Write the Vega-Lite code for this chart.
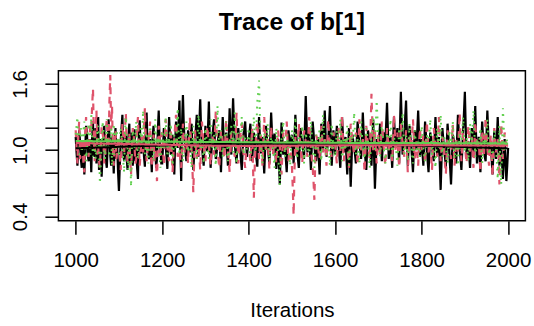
{
"$schema":"https://vega.github.io/schema/vega-lite/v6.json",
"width":467,"height":150,
"autosize":{"type":"none"},
"padding":{"left":58.4,"top":70.7,"right":8.6,"bottom":105.3},
"background":"white",
"config":{"view":{"stroke":"black","strokeWidth":1.5},"font":"Liberation Sans"},
"title":{"text":"Trace of b[1]","fontSize":24.6,"fontWeight":"bold","font":"Liberation Sans","color":"black","baseline":"alphabetic","offset":15,"anchor":"middle"},
"data":{"values":[
{"i":1000,"a":1.12,"b":1.18,"c":1.14},{"i":1004,"a":0.86,"b":0.88,"c":1.30},{"i":1008,"a":1.18,"b":1.26,"c":0.96},{"i":1012,"a":0.92,"b":0.95,"c":1.20},{"i":1016,"a":1.05,"b":1.08,"c":1.04},
{"i":1020,"a":0.78,"b":0.80,"c":1.26},{"i":1024,"a":1.22,"b":1.30,"c":0.90},{"i":1028,"a":0.95,"b":1.00,"c":1.16},{"i":1032,"a":1.10,"b":1.12,"c":1.08},{"i":1036,"a":0.80,"b":1.20,"c":1.32},
{"i":1040,"a":1.25,"b":1.56,"c":0.94},{"i":1044,"a":1.02,"b":0.90,"c":1.12},{"i":1048,"a":0.88,"b":1.36,"c":1.00},{"i":1052,"a":1.30,"b":1.04,"c":1.22},{"i":1056,"a":0.98,"b":0.84,"c":0.70},
{"i":1060,"a":0.76,"b":1.22,"c":1.06},{"i":1064,"a":1.15,"b":1.10,"c":1.18},{"i":1068,"a":1.06,"b":0.94,"c":0.92},{"i":1072,"a":0.84,"b":1.28,"c":1.28},{"i":1076,"a":1.28,"b":1.02,"c":1.02},
{"i":1080,"a":0.95,"b":1.68,"c":1.10},{"i":1084,"a":1.12,"b":1.40,"c":0.86},{"i":1088,"a":0.79,"b":0.86,"c":1.24},{"i":1092,"a":1.20,"b":1.18,"c":1.00},{"i":1096,"a":1.02,"b":0.98,"c":1.14},
{"i":1100,"a":0.63,"b":1.10,"c":0.94},{"i":1104,"a":1.08,"b":0.82,"c":1.20},{"i":1108,"a":1.32,"b":1.24,"c":1.06},{"i":1112,"a":0.90,"b":0.96,"c":0.80},{"i":1116,"a":1.15,"b":1.34,"c":1.30},
{"i":1120,"a":0.82,"b":0.88,"c":1.02},{"i":1124,"a":1.24,"b":1.16,"c":1.12},{"i":1128,"a":1.00,"b":0.78,"c":0.67},{"i":1132,"a":0.86,"b":1.20,"c":1.18},{"i":1136,"a":1.19,"b":1.04,"c":1.00},
{"i":1140,"a":1.05,"b":0.92,"c":1.26},{"i":1144,"a":0.74,"b":1.30,"c":0.92},{"i":1148,"a":1.27,"b":0.86,"c":1.10},{"i":1152,"a":0.97,"b":1.12,"c":1.04},{"i":1156,"a":1.12,"b":0.98,"c":1.36},
{"i":1160,"a":0.85,"b":1.38,"c":0.96},{"i":1164,"a":1.34,"b":0.90,"c":1.16},{"i":1168,"a":0.98,"b":1.08,"c":0.88},{"i":1172,"a":1.10,"b":1.26,"c":1.22},{"i":1176,"a":0.80,"b":0.84,"c":1.06},
{"i":1180,"a":1.22,"b":1.14,"c":0.90},{"i":1184,"a":1.04,"b":1.00,"c":1.28},{"i":1188,"a":0.92,"b":0.72,"c":1.00},{"i":1192,"a":1.36,"b":1.22,"c":1.12},{"i":1196,"a":1.00,"b":0.94,"c":0.84},
{"i":1200,"a":0.88,"b":1.16,"c":1.18},{"i":1204,"a":1.20,"b":0.86,"c":1.02},{"i":1208,"a":1.06,"b":1.28,"c":1.30},{"i":1212,"a":0.83,"b":1.02,"c":0.94},{"i":1216,"a":1.30,"b":0.90,"c":1.10},
{"i":1220,"a":0.96,"b":1.20,"c":1.24},{"i":1224,"a":1.14,"b":0.80,"c":0.86},{"i":1228,"a":0.78,"b":1.10,"c":1.14},{"i":1232,"a":1.26,"b":1.32,"c":1.00},{"i":1236,"a":1.02,"b":0.94,"c":1.38},
{"i":1240,"a":1.45,"b":1.06,"c":0.96},{"i":1244,"a":0.72,"b":0.84,"c":1.20},{"i":1248,"a":1.50,"b":1.24,"c":0.90},{"i":1252,"a":1.08,"b":0.98,"c":1.08},{"i":1256,"a":0.90,"b":1.12,"c":1.26},
{"i":1260,"a":1.18,"b":0.88,"c":0.98},{"i":1264,"a":0.98,"b":1.30,"c":1.16},{"i":1268,"a":1.24,"b":1.00,"c":0.84},{"i":1272,"a":0.82,"b":0.62,"c":1.22},{"i":1276,"a":1.10,"b":1.18,"c":1.04},
{"i":1280,"a":1.32,"b":0.92,"c":0.92},{"i":1284,"a":0.94,"b":1.08,"c":1.32},{"i":1288,"a":1.46,"b":0.82,"c":1.00},{"i":1292,"a":1.04,"b":1.26,"c":1.12},{"i":1296,"a":0.86,"b":1.04,"c":0.88},
{"i":1300,"a":1.22,"b":0.90,"c":1.20},{"i":1304,"a":0.99,"b":1.22,"c":1.04},{"i":1308,"a":1.44,"b":1.06,"c":0.92},{"i":1312,"a":0.84,"b":0.86,"c":1.28},{"i":1316,"a":1.12,"b":1.14,"c":1.00},
{"i":1320,"a":1.28,"b":0.96,"c":1.14},{"i":1324,"a":0.92,"b":1.36,"c":0.86},{"i":1328,"a":1.06,"b":1.02,"c":1.40},{"i":1332,"a":1.18,"b":0.84,"c":1.02},{"i":1336,"a":0.80,"b":1.18,"c":1.18},
{"i":1340,"a":1.30,"b":1.08,"c":0.94},{"i":1344,"a":1.00,"b":0.92,"c":1.10},{"i":1348,"a":1.16,"b":1.28,"c":1.26},{"i":1352,"a":0.86,"b":1.00,"c":0.90},{"i":1356,"a":1.38,"b":0.80,"c":1.06},
{"i":1360,"a":0.96,"b":1.16,"c":1.22},{"i":1364,"a":1.47,"b":1.04,"c":0.98},{"i":1368,"a":1.05,"b":0.94,"c":1.34},{"i":1372,"a":0.88,"b":1.34,"c":0.88},{"i":1376,"a":1.20,"b":0.88,"c":1.16},
{"i":1380,"a":1.02,"b":1.10,"c":1.04},{"i":1384,"a":0.82,"b":1.24,"c":1.30},{"i":1388,"a":1.14,"b":0.98,"c":0.96},{"i":1392,"a":1.26,"b":0.84,"c":1.12},{"i":1396,"a":0.94,"b":1.12,"c":1.00},
{"i":1400,"a":1.08,"b":1.02,"c":1.20},{"i":1404,"a":1.24,"b":0.90,"c":0.92},{"i":1408,"a":0.90,"b":1.20,"c":1.10},{"i":1412,"a":1.16,"b":0.57,"c":1.30},{"i":1416,"a":1.00,"b":1.06,"c":0.98},
{"i":1420,"a":0.85,"b":1.26,"c":1.44},{"i":1424,"a":1.30,"b":0.92,"c":1.63},{"i":1428,"a":0.97,"b":1.14,"c":1.06},{"i":1432,"a":1.12,"b":0.86,"c":0.88},{"i":1436,"a":0.79,"b":1.30,"c":1.16},
{"i":1440,"a":1.22,"b":1.00,"c":1.00},{"i":1444,"a":1.04,"b":1.10,"c":1.24},{"i":1448,"a":0.88,"b":0.82,"c":0.90},{"i":1452,"a":1.34,"b":1.22,"c":1.12},{"i":1456,"a":1.00,"b":0.96,"c":1.04},
{"i":1460,"a":1.15,"b":1.08,"c":0.84},{"i":1464,"a":0.83,"b":0.88,"c":1.20},{"i":1468,"a":1.10,"b":1.18,"c":0.98},{"i":1472,"a":0.69,"b":1.04,"c":0.68},{"i":1476,"a":1.25,"b":0.78,"c":1.10},
{"i":1480,"a":0.96,"b":1.16,"c":1.26},{"i":1484,"a":1.08,"b":0.98,"c":0.94},{"i":1488,"a":0.80,"b":1.26,"c":1.14},{"i":1492,"a":1.18,"b":0.90,"c":1.02},{"i":1496,"a":1.02,"b":1.06,"c":0.86},
{"i":1500,"a":1.14,"b":0.86,"c":1.18},{"i":1504,"a":0.88,"b":0.41,"c":1.04},{"i":1508,"a":1.32,"b":1.12,"c":1.30},{"i":1512,"a":1.00,"b":0.96,"c":0.92},{"i":1516,"a":0.84,"b":1.24,"c":1.12},
{"i":1520,"a":1.20,"b":1.02,"c":1.00},{"i":1524,"a":1.06,"b":0.88,"c":1.22},{"i":1528,"a":0.92,"b":1.18,"c":0.88},{"i":1532,"a":1.49,"b":1.08,"c":1.16},{"i":1536,"a":0.98,"b":0.94,"c":1.06},
{"i":1540,"a":1.16,"b":1.30,"c":0.94},{"i":1544,"a":0.82,"b":1.00,"c":1.26},{"i":1548,"a":1.26,"b":0.84,"c":1.02},{"i":1552,"a":1.04,"b":0.55,"c":0.84},{"i":1556,"a":0.90,"b":1.14,"c":1.14},
{"i":1560,"a":1.12,"b":1.04,"c":1.00},{"i":1564,"a":0.78,"b":0.92,"c":1.20},{"i":1568,"a":1.24,"b":1.22,"c":0.90},{"i":1572,"a":1.00,"b":0.98,"c":1.32},{"i":1576,"a":1.36,"b":1.10,"c":1.04},
{"i":1580,"a":0.94,"b":0.86,"c":0.96},{"i":1584,"a":1.08,"b":1.28,"c":1.10},{"i":1588,"a":1.40,"b":1.02,"c":0.86},{"i":1592,"a":0.86,"b":0.94,"c":1.24},{"i":1596,"a":1.18,"b":1.16,"c":1.02},
{"i":1600,"a":0.96,"b":1.06,"c":0.94},{"i":1604,"a":1.22,"b":0.88,"c":1.18},{"i":1608,"a":1.04,"b":1.20,"c":1.06},{"i":1612,"a":0.84,"b":0.98,"c":1.28},{"i":1616,"a":1.30,"b":1.32,"c":0.90},
{"i":1620,"a":0.98,"b":0.90,"c":1.12},{"i":1624,"a":1.12,"b":1.12,"c":1.00},{"i":1628,"a":0.78,"b":1.02,"c":1.22},{"i":1632,"a":1.20,"b":0.84,"c":0.86},{"i":1636,"a":0.67,"b":1.24,"c":1.16},
{"i":1640,"a":1.14,"b":1.08,"c":1.04},{"i":1644,"a":1.02,"b":0.96,"c":1.34},{"i":1648,"a":0.88,"b":1.16,"c":0.96},{"i":1652,"a":1.26,"b":0.86,"c":1.10},{"i":1656,"a":1.06,"b":1.28,"c":0.88},
{"i":1660,"a":0.92,"b":1.00,"c":1.26},{"i":1664,"a":1.34,"b":1.10,"c":1.02},{"i":1668,"a":1.00,"b":0.80,"c":0.92},{"i":1672,"a":0.82,"b":1.22,"c":1.20},{"i":1676,"a":1.18,"b":1.04,"c":1.08},
{"i":1680,"a":1.08,"b":0.92,"c":0.84},{"i":1684,"a":0.86,"b":1.51,"c":1.14},{"i":1688,"a":1.28,"b":1.00,"c":1.30},{"i":1692,"a":0.65,"b":1.18,"c":1.00},{"i":1696,"a":1.10,"b":0.88,"c":1.45},
{"i":1700,"a":1.00,"b":1.14,"c":1.10},{"i":1704,"a":1.24,"b":0.96,"c":0.94},{"i":1708,"a":0.90,"b":1.26,"c":1.22},{"i":1712,"a":1.16,"b":1.04,"c":1.04},{"i":1716,"a":1.06,"b":0.86,"c":0.88},
{"i":1720,"a":1.43,"b":1.20,"c":1.16},{"i":1724,"a":0.92,"b":1.00,"c":1.00},{"i":1728,"a":1.12,"b":1.10,"c":1.28},{"i":1732,"a":0.84,"b":0.90,"c":0.92},{"i":1736,"a":1.30,"b":1.32,"c":1.12},
{"i":1740,"a":1.02,"b":0.98,"c":1.06},{"i":1744,"a":1.20,"b":1.16,"c":0.86},{"i":1748,"a":0.88,"b":0.84,"c":1.20},{"i":1752,"a":1.53,"b":1.24,"c":1.02},{"i":1756,"a":0.96,"b":1.06,"c":1.34},
{"i":1760,"a":1.14,"b":0.94,"c":0.96},{"i":1764,"a":1.45,"b":1.18,"c":1.14},{"i":1768,"a":0.86,"b":0.80,"c":0.90},{"i":1772,"a":1.22,"b":1.12,"c":1.24},{"i":1776,"a":1.04,"b":1.02,"c":1.04},
{"i":1780,"a":0.80,"b":1.28,"c":0.88},{"i":1784,"a":1.18,"b":0.92,"c":1.18},{"i":1788,"a":1.00,"b":1.08,"c":1.00},{"i":1792,"a":1.36,"b":0.86,"c":1.10},{"i":1796,"a":0.94,"b":1.20,"c":0.94},
{"i":1800,"a":1.10,"b":1.00,"c":1.22},{"i":1804,"a":0.86,"b":1.14,"c":1.02},{"i":1808,"a":1.26,"b":0.88,"c":0.90},{"i":1812,"a":1.00,"b":1.26,"c":1.14},{"i":1816,"a":0.80,"b":0.98,"c":1.06},
{"i":1820,"a":1.16,"b":1.08,"c":1.28},{"i":1824,"a":1.04,"b":0.82,"c":0.96},{"i":1828,"a":0.90,"b":1.20,"c":1.10},{"i":1832,"a":1.30,"b":1.04,"c":0.84},{"i":1836,"a":0.96,"b":0.94,"c":1.20},
{"i":1840,"a":1.12,"b":1.30,"c":1.00},{"i":1844,"a":0.64,"b":0.90,"c":1.32},{"i":1848,"a":1.20,"b":1.12,"c":0.94},{"i":1852,"a":1.02,"b":1.00,"c":1.12},{"i":1856,"a":0.85,"b":0.78,"c":1.04},
{"i":1860,"a":1.24,"b":1.18,"c":0.88},{"i":1864,"a":0.98,"b":1.06,"c":1.18},{"i":1868,"a":0.69,"b":0.92,"c":1.00},{"i":1872,"a":1.14,"b":1.24,"c":1.26},{"i":1876,"a":1.06,"b":0.86,"c":0.92},
{"i":1880,"a":0.88,"b":1.10,"c":1.08},{"i":1884,"a":1.32,"b":0.98,"c":0.86},{"i":1888,"a":1.00,"b":1.34,"c":1.16},{"i":1892,"a":0.82,"b":0.90,"c":1.02},{"i":1896,"a":1.18,"b":1.16,"c":1.30},
{"i":1900,"a":1.53,"b":1.04,"c":0.98},{"i":1904,"a":0.94,"b":0.88,"c":1.12},{"i":1908,"a":1.08,"b":1.22,"c":0.90},{"i":1912,"a":0.84,"b":0.96,"c":1.24},{"i":1916,"a":1.20,"b":1.12,"c":1.04},
{"i":1920,"a":0.98,"b":0.84,"c":1.36},{"i":1924,"a":1.40,"b":1.26,"c":0.94},{"i":1928,"a":0.88,"b":1.00,"c":1.10},{"i":1932,"a":1.12,"b":1.08,"c":1.00},{"i":1936,"a":0.80,"b":0.80,"c":1.20},
{"i":1940,"a":1.26,"b":1.18,"c":0.88},{"i":1944,"a":1.00,"b":0.94,"c":1.14},{"i":1948,"a":0.90,"b":1.30,"c":1.02},{"i":1952,"a":1.36,"b":1.02,"c":1.28},{"i":1956,"a":0.96,"b":0.86,"c":0.96},
{"i":1960,"a":1.06,"b":1.14,"c":1.08},{"i":1964,"a":0.78,"b":0.76,"c":0.92},{"i":1968,"a":1.18,"b":1.20,"c":1.18},{"i":1972,"a":0.92,"b":0.98,"c":1.04},{"i":1976,"a":1.30,"b":1.10,"c":0.74},
{"i":1980,"a":0.86,"b":0.69,"c":1.22},{"i":1984,"a":1.04,"b":1.24,"c":0.69},{"i":1988,"a":0.74,"b":0.92,"c":1.38},{"i":1992,"a":1.10,"b":1.16,"c":1.00},{"i":1996,"a":0.72,"b":1.04,"c":1.10},
{"i":2000,"a":1.02,"b":1.08,"c":1.06},
{"i":1002,"a":0.98,"b":1.02,"c":1.22},{"i":1006,"a":1.04,"b":1.12,"c":1.08},{"i":1010,"a":1.08,"b":0.92,"c":1.14},{"i":1014,"a":0.84,"b":1.10,"c":0.98},{"i":1018,"a":0.92,"b":0.86,"c":1.18},
{"i":1022,"a":1.00,"b":1.16,"c":1.06},{"i":1026,"a":1.16,"b":1.06,"c":1.02},{"i":1030,"a":0.90,"b":0.94,"c":1.24},{"i":1034,"a":1.06,"b":1.24,"c":0.96},{"i":1038,"a":1.12,"b":1.40,"c":1.10},
{"i":1042,"a":0.94,"b":1.10,"c":1.04},{"i":1046,"a":1.20,"b":1.20,"c":0.92},{"i":1050,"a":1.08,"b":0.96,"c":1.16},{"i":1054,"a":0.82,"b":0.90,"c":1.02},{"i":1058,"a":1.10,"b":1.04,"c":0.88},
{"i":1062,"a":0.96,"b":1.16,"c":1.26},{"i":1066,"a":1.22,"b":0.88,"c":1.00},{"i":1070,"a":0.90,"b":1.20,"c":1.12},{"i":1074,"a":1.04,"b":1.10,"c":1.06},{"i":1078,"a":1.14,"b":1.44,"c":0.94},
{"i":1082,"a":0.86,"b":1.18,"c":1.20},{"i":1086,"a":1.00,"b":1.00,"c":1.04},{"i":1090,"a":1.06,"b":1.04,"c":0.96},{"i":1094,"a":0.92,"b":0.92,"c":1.18},{"i":1098,"a":0.80,"b":1.12,"c":1.06},
{"i":1102,"a":0.86,"b":0.96,"c":1.08},{"i":1106,"a":1.20,"b":1.06,"c":1.12},{"i":1110,"a":0.98,"b":1.12,"c":0.90},{"i":1114,"a":1.06,"b":1.18,"c":1.18},{"i":1118,"a":0.92,"b":1.00,"c":1.10},
{"i":1122,"a":1.12,"b":1.08,"c":0.82},{"i":1126,"a":0.88,"b":0.92,"c":0.96},{"i":1130,"a":1.16,"b":1.02,"c":1.04},{"i":1134,"a":1.04,"b":1.14,"c":1.08},{"i":1138,"a":0.90,"b":0.88,"c":1.14},
{"i":1142,"a":0.84,"b":1.20,"c":1.06},{"i":1146,"a":1.14,"b":1.04,"c":1.02},{"i":1150,"a":1.02,"b":0.96,"c":1.20},{"i":1154,"a":1.08,"b":1.06,"c":1.18},{"i":1158,"a":0.94,"b":1.22,"c":1.10},
{"i":1162,"a":1.20,"b":1.10,"c":1.04},{"i":1166,"a":1.06,"b":1.00,"c":0.98},{"i":1170,"a":0.92,"b":1.16,"c":1.12},{"i":1174,"a":0.96,"b":0.94,"c":1.14},{"i":1178,"a":1.12,"b":1.06,"c":0.96},
{"i":1182,"a":1.00,"b":0.90,"c":1.10},{"i":1186,"a":0.84,"b":0.86,"c":1.16},{"i":1190,"a":1.18,"b":1.02,"c":1.06},{"i":1194,"a":1.08,"b":1.08,"c":0.94},{"i":1198,"a":0.88,"b":1.14,"c":1.02},
{"i":1202,"a":1.04,"b":1.00,"c":1.10},{"i":1206,"a":1.12,"b":1.08,"c":1.16},{"i":1210,"a":0.94,"b":1.14,"c":1.12},{"i":1214,"a":1.08,"b":0.96,"c":1.02},{"i":1218,"a":1.12,"b":1.06,"c":1.16},
{"i":1222,"a":1.02,"b":0.98,"c":1.04},{"i":1226,"a":0.96,"b":0.96,"c":1.00},{"i":1230,"a":1.06,"b":1.22,"c":1.06},{"i":1234,"a":1.14,"b":1.10,"c":1.20},{"i":1238,"a":1.26,"b":1.00,"c":1.14},
{"i":1242,"a":1.00,"b":0.92,"c":1.08},{"i":1246,"a":1.24,"b":1.06,"c":1.04},{"i":1250,"a":1.22,"b":1.10,"c":0.98},{"i":1254,"a":0.98,"b":1.04,"c":1.18},{"i":1258,"a":1.06,"b":0.98,"c":1.10},
{"i":1262,"a":1.08,"b":1.12,"c":1.06},{"i":1266,"a":1.12,"b":1.14,"c":1.00},{"i":1270,"a":1.02,"b":0.82,"c":1.04},{"i":1274,"a":0.96,"b":0.90,"c":1.12},{"i":1278,"a":1.20,"b":1.04,"c":0.98},
{"i":1282,"a":1.10,"b":1.00,"c":1.14},{"i":1286,"a":1.24,"b":0.94,"c":1.16},{"i":1290,"a":1.18,"b":1.06,"c":1.06},{"i":1294,"a":0.94,"b":1.14,"c":0.98},{"i":1298,"a":1.06,"b":0.96,"c":1.04},
{"i":1302,"a":1.10,"b":1.06,"c":1.12},{"i":1306,"a":1.20,"b":1.14,"c":0.98},{"i":1310,"a":1.12,"b":0.96,"c":1.10},{"i":1314,"a":0.98,"b":1.00,"c":1.14},{"i":1318,"a":1.20,"b":1.04,"c":1.08},
{"i":1322,"a":1.08,"b":1.16,"c":1.00},{"i":1326,"a":0.98,"b":1.18,"c":1.18},{"i":1330,"a":1.12,"b":0.92,"c":1.20},{"i":1334,"a":0.98,"b":1.00,"c":1.10},{"i":1338,"a":1.06,"b":1.14,"c":1.06},
{"i":1342,"a":1.14,"b":1.00,"c":1.02},{"i":1346,"a":1.08,"b":1.10,"c":1.18},{"i":1350,"a":1.00,"b":1.14,"c":1.08},{"i":1354,"a":1.12,"b":0.90,"c":0.98},{"i":1358,"a":1.16,"b":0.98,"c":1.14},
{"i":1362,"a":1.22,"b":1.10,"c":1.10},{"i":1366,"a":1.24,"b":0.98,"c":1.16},{"i":1370,"a":0.96,"b":1.14,"c":1.12},{"i":1374,"a":1.04,"b":1.10,"c":1.02},{"i":1378,"a":1.10,"b":0.98,"c":1.10},
{"i":1382,"a":0.92,"b":1.18,"c":1.16},{"i":1386,"a":0.98,"b":1.10,"c":1.14},{"i":1390,"a":1.20,"b":0.90,"c":1.04},{"i":1394,"a":1.08,"b":0.98,"c":1.06},{"i":1398,"a":1.02,"b":1.06,"c":1.10},
{"i":1402,"a":1.16,"b":0.96,"c":1.06},{"i":1406,"a":1.06,"b":1.06,"c":1.02},{"i":1410,"a":1.04,"b":0.86,"c":1.20},{"i":1414,"a":1.08,"b":0.84,"c":1.14},{"i":1418,"a":0.92,"b":1.16,"c":1.22},
{"i":1422,"a":1.08,"b":1.10,"c":1.52},{"i":1426,"a":1.12,"b":1.04,"c":1.30},{"i":1430,"a":1.04,"b":1.00,"c":0.96},{"i":1434,"a":0.94,"b":1.08,"c":1.02},{"i":1438,"a":1.00,"b":1.14,"c":1.08},
{"i":1442,"a":1.12,"b":1.06,"c":1.12},{"i":1446,"a":0.96,"b":0.96,"c":1.06},{"i":1450,"a":1.12,"b":1.02,"c":1.02},{"i":1454,"a":1.16,"b":1.08,"c":1.08},{"i":1458,"a":1.08,"b":1.02,"c":0.94},
{"i":1462,"a":0.98,"b":0.98,"c":1.02},{"i":1466,"a":0.96,"b":1.04,"c":1.10},{"i":1470,"a":0.88,"b":1.10,"c":0.84},{"i":1474,"a":0.98,"b":0.92,"c":0.90},{"i":1478,"a":1.10,"b":0.98,"c":1.18},
{"i":1482,"a":1.02,"b":1.06,"c":1.10},{"i":1486,"a":0.92,"b":1.12,"c":1.04},{"i":1490,"a":1.00,"b":1.08,"c":1.08},{"i":1494,"a":1.10,"b":0.98,"c":0.94},{"i":1498,"a":1.08,"b":0.96,"c":1.02},
{"i":1502,"a":1.00,"b":0.66,"c":1.10},{"i":1506,"a":1.10,"b":0.82,"c":1.16},{"i":1510,"a":1.16,"b":1.04,"c":1.10},{"i":1514,"a":0.92,"b":1.10,"c":1.02},{"i":1518,"a":1.02,"b":1.12,"c":1.06},
{"i":1522,"a":1.12,"b":0.94,"c":1.10},{"i":1526,"a":1.00,"b":1.04,"c":1.04},{"i":1530,"a":1.20,"b":1.12,"c":1.02},{"i":1534,"a":1.24,"b":1.00,"c":1.10},{"i":1538,"a":1.06,"b":1.12,"c":1.00},
{"i":1542,"a":0.98,"b":1.14,"c":1.10},{"i":1546,"a":1.04,"b":0.92,"c":1.14},{"i":1550,"a":1.16,"b":0.72,"c":0.92},{"i":1554,"a":0.96,"b":0.90,"c":0.98},{"i":1558,"a":1.02,"b":1.10,"c":1.06},
{"i":1562,"a":0.94,"b":0.98,"c":1.10},{"i":1566,"a":1.02,"b":1.08,"c":1.04},{"i":1570,"a":1.12,"b":1.10,"c":1.12},{"i":1574,"a":1.18,"b":1.04,"c":1.18},{"i":1578,"a":1.14,"b":0.98,"c":1.00},
{"i":1582,"a":1.02,"b":1.08,"c":1.04},{"i":1586,"a":1.24,"b":1.14,"c":0.98},{"i":1590,"a":1.12,"b":0.98,"c":1.06},{"i":1594,"a":1.02,"b":1.06,"c":1.12},{"i":1598,"a":1.06,"b":1.10,"c":0.98},
{"i":1602,"a":1.10,"b":0.96,"c":1.06},{"i":1606,"a":1.12,"b":1.04,"c":1.12},{"i":1610,"a":0.94,"b":1.10,"c":1.16},{"i":1614,"a":1.06,"b":1.14,"c":1.10},{"i":1618,"a":1.14,"b":1.10,"c":1.00},
{"i":1622,"a":1.04,"b":1.00,"c":1.06},{"i":1626,"a":0.94,"b":1.06,"c":1.12},{"i":1630,"a":1.00,"b":0.94,"c":1.04},{"i":1634,"a":0.92,"b":1.04,"c":1.00},{"i":1638,"a":0.90,"b":1.16,"c":1.10},
{"i":1642,"a":1.08,"b":1.02,"c":1.18},{"i":1646,"a":0.96,"b":1.06,"c":1.14},{"i":1650,"a":1.08,"b":1.00,"c":1.04},{"i":1654,"a":1.16,"b":1.06,"c":0.98},{"i":1658,"a":1.00,"b":1.14,"c":1.06},
{"i":1662,"a":1.12,"b":1.04,"c":1.14},{"i":1666,"a":1.16,"b":0.96,"c":0.98},{"i":1670,"a":0.92,"b":1.00,"c":1.06},{"i":1674,"a":1.00,"b":1.12,"c":1.14},{"i":1678,"a":1.12,"b":0.98,"c":0.96},
{"i":1682,"a":0.96,"b":1.20,"c":0.98},{"i":1686,"a":1.06,"b":1.26,"c":1.22},{"i":1690,"a":0.96,"b":1.08,"c":1.16},{"i":1694,"a":0.88,"b":1.02,"c":1.22},{"i":1698,"a":1.04,"b":1.00,"c":1.28},
{"i":1702,"a":1.12,"b":1.04,"c":1.02},{"i":1706,"a":1.06,"b":1.10,"c":1.08},{"i":1710,"a":1.02,"b":1.16,"c":1.14},{"i":1714,"a":1.12,"b":0.94,"c":0.96},{"i":1718,"a":1.24,"b":1.02,"c":1.02},
{"i":1722,"a":1.18,"b":1.10,"c":1.08},{"i":1726,"a":1.02,"b":1.06,"c":1.14},{"i":1730,"a":0.98,"b":1.00,"c":1.10},{"i":1734,"a":1.06,"b":1.10,"c":1.02},{"i":1738,"a":1.16,"b":1.16,"c":1.08},
{"i":1742,"a":1.10,"b":1.06,"c":0.96},{"i":1746,"a":1.04,"b":1.00,"c":1.02},{"i":1750,"a":1.22,"b":1.04,"c":1.10},{"i":1754,"a":1.24,"b":1.14,"c":1.18},{"i":1758,"a":1.04,"b":1.00,"c":1.14},
{"i":1762,"a":1.30,"b":1.06,"c":1.06},{"i":1766,"a":1.14,"b":0.98,"c":1.02},{"i":1770,"a":1.04,"b":0.96,"c":1.06},{"i":1774,"a":1.12,"b":1.08,"c":1.14},{"i":1778,"a":0.92,"b":1.14,"c":0.96},
{"i":1782,"a":0.98,"b":1.10,"c":1.02},{"i":1786,"a":1.10,"b":1.00,"c":1.10},{"i":1790,"a":1.18,"b":0.96,"c":1.04},{"i":1794,"a":1.14,"b":1.04,"c":1.02},{"i":1798,"a":1.02,"b":1.10,"c":1.08},
{"i":1802,"a":0.98,"b":1.06,"c":1.12},{"i":1806,"a":1.06,"b":1.00,"c":0.96},{"i":1810,"a":1.14,"b":1.06,"c":1.02},{"i":1814,"a":0.90,"b":1.12,"c":1.10},{"i":1818,"a":0.98,"b":1.04,"c":1.16},
{"i":1822,"a":1.10,"b":0.94,"c":1.12},{"i":1826,"a":0.96,"b":1.00,"c":1.04},{"i":1830,"a":1.10,"b":1.12,"c":0.96},{"i":1834,"a":1.12,"b":0.98,"c":1.02},{"i":1838,"a":1.04,"b":1.12,"c":1.10},
{"i":1842,"a":0.88,"b":1.10,"c":1.16},{"i":1846,"a":0.90,"b":1.00,"c":1.12},{"i":1850,"a":1.10,"b":1.06,"c":1.04},{"i":1854,"a":0.94,"b":0.88,"c":1.08},{"i":1858,"a":1.04,"b":0.96,"c":0.96},
{"i":1862,"a":1.12,"b":1.12,"c":1.04},{"i":1866,"a":0.84,"b":1.00,"c":1.08},{"i":1870,"a":0.90,"b":1.08,"c":1.12},{"i":1874,"a":1.10,"b":1.04,"c":1.10},{"i":1878,"a":0.96,"b":0.98,"c":1.00},
{"i":1882,"a":1.10,"b":1.04,"c":0.96},{"i":1886,"a":1.16,"b":1.16,"c":1.02},{"i":1890,"a":0.92,"b":1.12,"c":1.08},{"i":1894,"a":1.00,"b":1.02,"c":1.16},{"i":1898,"a":1.34,"b":1.10,"c":1.14},
{"i":1902,"a":1.20,"b":0.96,"c":1.04},{"i":1906,"a":1.00,"b":1.04,"c":1.00},{"i":1910,"a":0.96,"b":1.10,"c":1.06},{"i":1914,"a":1.02,"b":1.04,"c":1.14},{"i":1918,"a":1.08,"b":0.98,"c":1.20},
{"i":1922,"a":1.18,"b":1.04,"c":1.16},{"i":1926,"a":1.12,"b":1.12,"c":1.02},{"i":1930,"a":1.00,"b":1.04,"c":1.04},{"i":1934,"a":0.96,"b":0.94,"c":1.10},{"i":1938,"a":1.04,"b":1.00,"c":1.04},
{"i":1942,"a":1.12,"b":1.06,"c":1.00},{"i":1946,"a":0.94,"b":1.12,"c":1.08},{"i":1950,"a":1.12,"b":1.16,"c":1.16},{"i":1954,"a":1.16,"b":0.94,"c":1.12},{"i":1958,"a":1.00,"b":1.00,"c":1.02},
{"i":1962,"a":0.92,"b":0.96,"c":1.00},{"i":1966,"a":0.98,"b":0.98,"c":1.04},{"i":1970,"a":1.04,"b":1.08,"c":1.10},{"i":1974,"a":1.10,"b":1.04,"c":0.90},{"i":1978,"a":1.08,"b":0.90,"c":0.96},
{"i":1982,"a":0.94,"b":0.96,"c":0.84},{"i":1986,"a":0.88,"b":1.08,"c":1.02},{"i":1990,"a":0.92,"b":1.04,"c":1.20},{"i":1994,"a":0.90,"b":1.10,"c":1.04},{"i":1998,"a":0.86,"b":1.06,"c":1.08}
]},
"transform":[{"fold":["a","b","c"],"as":["chain","v"]}],
"encoding":{
"x":{"field":"i","type":"quantitative","scale":{"domain":[960,2040],"nice":false,"zero":false},
"axis":{"title":"Iterations","values":[1000,1200,1400,1600,1800,2000],"format":"d","domain":false,"grid":false,"tickSize":13.5,"tickWidth":1.5,"tickColor":"black","labelFontSize":20.5,"labelColor":"black","labelFont":"Liberation Sans","labelBaseline":"alphabetic","labelPadding":32,"labelFlush":false,"labelOverlap":false,"titleFontSize":20.5,"titleFont":"Liberation Sans","titleFontWeight":"normal","titleColor":"black","titleBaseline":"alphabetic","titleY":96}},
"y":{"field":"v","type":"quantitative","scale":{"domain":[0.361,1.72],"nice":false,"zero":false},
"axis":{"title":null,"values":[0.4,0.6,0.8,1.0,1.2,1.4,1.6],"format":".1f","labelExpr":"indexof(['0.4','1.0','1.6'], datum.label) >= 0 ? datum.label : ''","domain":false,"grid":false,"tickSize":13.5,"tickWidth":1.5,"tickColor":"black","labelFontSize":20.5,"labelColor":"black","labelFont":"Liberation Sans","labelAngle":-90,"labelAlign":"center","labelBaseline":"alphabetic","labelPadding":18.2,"labelOverlap":false}}
},
"layer":[
{"transform":[{"filter":"datum.chain == 'a'"}],"mark":{"type":"line","color":"black","strokeWidth":2.2,"clip":true}},
{"transform":[{"filter":"datum.chain == 'b'"}],"mark":{"type":"line","color":"#DF536B","strokeWidth":2.2,"strokeDash":[6.8,6.8],"clip":true}},
{"transform":[{"filter":"datum.chain == 'c'"}],"mark":{"type":"line","color":"#61D04F","strokeWidth":2,"strokeDash":[1.8,5],"clip":true}},
{"transform":[{"filter":"datum.chain == 'a'"},{"loess":"v","on":"i","bandwidth":0.67}],"mark":{"type":"line","color":"black","strokeWidth":2}},
{"transform":[{"filter":"datum.chain == 'b'"},{"loess":"v","on":"i","bandwidth":0.67}],"mark":{"type":"line","color":"#DF536B","strokeWidth":2}},
{"transform":[{"filter":"datum.chain == 'c'"},{"loess":"v","on":"i","bandwidth":0.67}],"mark":{"type":"line","color":"#61D04F","strokeWidth":2}}
]
}
